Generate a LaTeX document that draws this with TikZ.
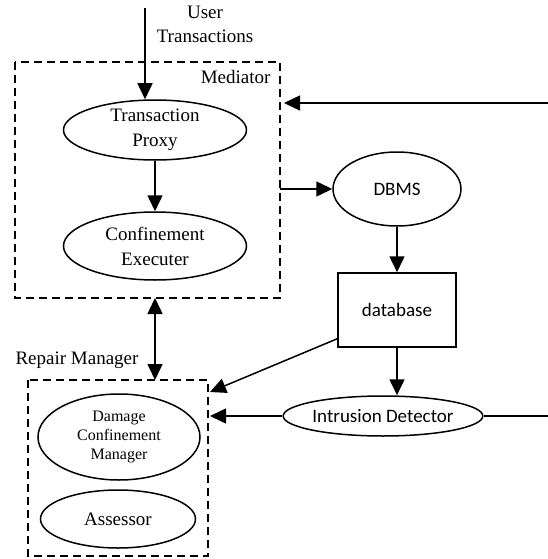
\documentclass[tikz,border=0pt]{standalone}
\usepackage{fontspec}
\setmainfont{Liberation Serif}
\newfontfamily\uifont{Carlito}
\usetikzlibrary{positioning, shapes.geometric, arrows.meta}
\tikzset{
  % Component shapes
  comp/.style={ellipse, draw, line width=1.5pt, inner sep=0pt, align=center, font=\fontsize{19}{25}\selectfont},
  store/.style={rectangle, draw, line width=1.5pt, minimum width=118pt, minimum height=74pt, font=\uifont\fontsize{19}{22}\selectfont},
  % Dashed groups
  group/.style={draw, line width=1.6pt, dash pattern=on 8pt off 5pt},
  % Labels
  grplabel/.style={font=\fontsize{19}{24}\selectfont, align=center},
  % Connectors
  flow/.style={line width=1.5pt, -{Triangle[length=16pt, width=15pt]}},
  plain/.style={line width=1.5pt},
}

\begin{document}
\begin{tikzpicture}[x=1pt, y=-1pt]
  \useasboundingbox (0,0) rectangle (548,559);

  % --- MEDIATOR ---
  \draw[group] (15,62) rectangle (280,298);
  \node[grplabel, anchor=north east] (medlabel) at (274,67) {Mediator};
  \node[comp, minimum width=183pt, minimum height=60pt] (proxy) at (155,130) {Transaction\\Proxy};
  \node[comp, minimum width=183pt, minimum height=68pt] (exec) at (155,246) {Confinement\\Executer};
  \coordinate (medtop) at (145,8);
  \coordinate (medright) at (284,103);
  \coordinate (medout) at (280,189);
  \coordinate (medbot) at (155,298);
  \node[grplabel, anchor=north] (userlabel) at (205,3) {User\\Transactions};

  % --- DATA SIDE ---
  \node[comp, minimum width=128pt, minimum height=74pt, font=\uifont\fontsize{19}{22}\selectfont] (dbms) at (397,189) {DBMS};
  \node[store] (db) at (397,310) {database};
  \node[comp, minimum width=195pt, minimum height=40pt, font=\uifont\fontsize{19}{22}\selectfont] (ids) at (383,416) {Intrusion Detector};
  \coordinate (rightin) at (548,103);
  \coordinate (rightout) at (548,416);

  % --- REPAIR MANAGER ---
  \draw[group] (28,380) rectangle (208,556);
  \node[grplabel, anchor=south west] (replabel) at (12,372) {Repair Manager};
  \node[comp, minimum width=162pt, minimum height=86pt, font=\fontsize{16}{19}\selectfont] (dcm) at (119,437) {Damage\\Confinement\\Manager};
  \node[comp, minimum width=155pt, minimum height=58pt] (assessor) at (118,519) {Assessor};
  \coordinate (reptop) at (155,380);
  \coordinate (repcorner) at (210,392);
  \coordinate (repright) at (210,416);

  % --- Connectors ---
  \draw[flow] (medtop) -- (proxy.north -| medtop);
  \draw[flow] (proxy) -- (exec);
  \draw[flow] (rightin) -- (medright);
  \draw[flow] (medout) -- (dbms.west |- medout);
  \draw[flow] (dbms) -- (db);
  \draw[flow] (db.south) -- (db.south |- ids.north);
  \draw[flow] ([yshift=9pt]db.south west) -- (repcorner);
  \draw[flow] (ids) -- (repright);
  \draw[plain] (ids) -- (rightout);
  \draw[flow, {Triangle[length=16pt, width=15pt]}-{Triangle[length=16pt, width=15pt]}] (medbot) -- (reptop);

\end{tikzpicture}
\end{document}
